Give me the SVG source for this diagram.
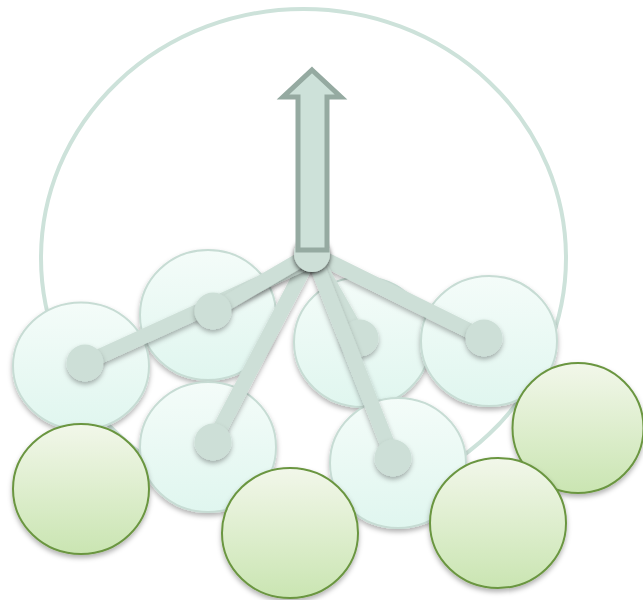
<svg xmlns="http://www.w3.org/2000/svg" width="643" height="600" viewBox="0 0 643 600">
<defs>
<linearGradient id="gPale" x1="0" y1="0" x2="0" y2="1">
<stop offset="0" stop-color="#f4fcf9"/>
<stop offset="1" stop-color="#e0f6ef"/>
</linearGradient>
<linearGradient id="gGreen" x1="0" y1="0" x2="0" y2="1">
<stop offset="0" stop-color="#f2f7ea"/>
<stop offset="1" stop-color="#cae5b2"/>
</linearGradient>
<filter id="sh" x="-20%" y="-20%" width="140%" height="150%">
<feDropShadow dx="0" dy="3" stdDeviation="2.5" flood-color="#000" flood-opacity="0.3"/>
</filter>
<filter id="shHub" x="-50%" y="-50%" width="200%" height="200%">
<feDropShadow dx="0" dy="2" stdDeviation="2.5" flood-color="#000" flood-opacity="0.7"/>
</filter>
</defs>
<style>
.pale{fill:url(#gPale);stroke:#c7dcd4;stroke-width:2;filter:url(#sh)}
.green{fill:url(#gGreen);stroke:#6b9641;stroke-width:2;filter:url(#sh)}
.spoke{stroke:#cddfd7;stroke-width:15;fill:none;stroke-linecap:round;filter:url(#sh)}
.end{fill:#cddfd7;filter:url(#sh)}
</style>
<ellipse id="outer" cx="303.5" cy="258" rx="262.5" ry="249" fill="none" stroke="#cde2da" stroke-width="4"/>
<g id="nodes">
<g id="n-upper-mid"><ellipse class="pale" cx="208" cy="315" rx="68" ry="65"/></g>
<g id="n-left"><ellipse class="pale" cx="81" cy="366" rx="68" ry="63.5"/></g>
<g id="n-mid"><ellipse class="pale" cx="362" cy="342" rx="68" ry="65"/></g>
<g id="n-right"><ellipse class="pale" cx="489" cy="341" rx="68" ry="65"/></g>
<g id="n-lower-left"><ellipse class="pale" cx="208" cy="447" rx="68" ry="65"/></g>
<g id="n-lower-right"><ellipse class="pale" cx="398" cy="463" rx="68" ry="65"/></g>
<g id="g-right"><ellipse class="green" cx="578" cy="428" rx="65.5" ry="65"/></g>
<g id="g-bottom-left"><ellipse class="green" cx="81" cy="489" rx="68" ry="65"/></g>
<g id="g-bottom-mid"><ellipse class="green" cx="290" cy="533" rx="68" ry="65"/></g>
<g id="g-bottom-right"><ellipse class="green" cx="498" cy="523" rx="68" ry="65"/></g>
</g>
<g id="connectors">
<line class="spoke" x1="312" y1="253" x2="484" y2="338"/>
<circle class="end" cx="484" cy="338" r="18.5"/>
<line class="spoke" x1="312" y1="253" x2="360" y2="338"/>
<circle class="end" cx="360" cy="338" r="18.5"/>
<line class="spoke" x1="312" y1="253" x2="393" y2="458"/>
<circle class="end" cx="393" cy="458" r="18.5"/>
<line class="spoke" x1="312" y1="253" x2="213" y2="442"/>
<circle class="end" cx="213" cy="442" r="18.5"/>
<line class="spoke" x1="85" y1="363" x2="309" y2="261"/>
<circle class="end" cx="85" cy="363" r="18.5"/>
<line class="spoke" x1="312" y1="253" x2="213" y2="311"/>
<circle class="end" cx="213" cy="311" r="18.5"/>
</g>
<g id="hub">
<circle cx="312" cy="254" r="18" fill="#cddfd7" filter="url(#shHub)"/>
</g>
<g id="arrow">
<polygon points="312,70 341,97 327,97 327,250 298,250 298,97 283,97" fill="#cde1d9" stroke="#95aaa1" stroke-width="5"/>
</g>
</svg>
